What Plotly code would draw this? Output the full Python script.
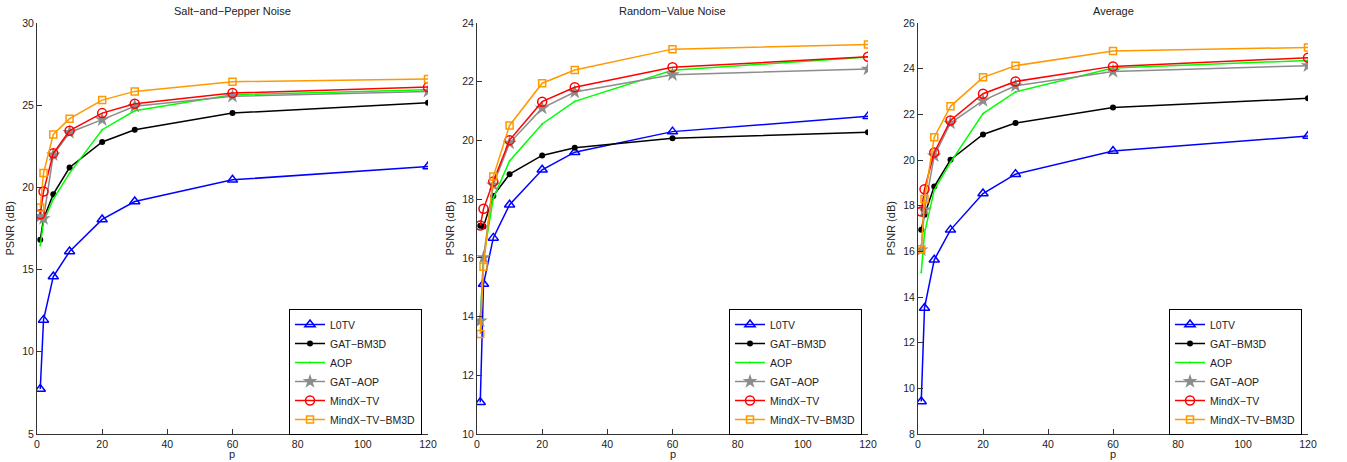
import plotly.graph_objects as go

p_values = [1, 2, 5, 10, 20, 30, 60, 120]
methods = ["L0TV", "GAT\u2212BM3D", "AOP", "GAT\u2212AOP", "MindX\u2212TV", "MindX\u2212TV\u2212BM3D"]

# Salt-and-Pepper Noise
sp_l0tv = [7.74, 11.94, 14.58, 16.10, 18.05, 19.14, 20.46, 21.27]
sp_gatbm3d = [16.81, 18.08, 19.59, 21.21, 22.76, 23.51, 24.52, 25.15]
sp_aop = [16.47, 17.90, 19.29, 20.87, 23.51, 24.66, 25.64, 25.94]
sp_gataop = [18.23, 18.10, 21.98, 23.34, 24.12, 24.93, 25.54, 25.84]
sp_mindxtv = [18.37, 19.75, 22.07, 23.45, 24.52, 25.09, 25.74, 26.10]
sp_mindxbm3d = [18.78, 20.87, 23.22, 24.18, 25.31, 25.84, 26.43, 26.59]

# Random-Value Noise
rv_l0tv = [11.08, 15.11, 16.68, 17.81, 19.00, 19.60, 20.30, 20.82]
rv_gatbm3d = [17.09, 17.07, 18.11, 18.85, 19.49, 19.75, 20.07, 20.28]
rv_aop = [13.90, 16.00, 18.03, 19.30, 20.56, 21.33, 22.39, 22.84]
rv_gataop = [13.85, 16.01, 18.49, 19.91, 21.10, 21.65, 22.24, 22.43]
rv_mindxtv = [17.10, 17.67, 18.60, 20.01, 21.32, 21.81, 22.49, 22.85]
rv_mindxbm3d = [13.41, 15.70, 18.77, 20.51, 21.95, 22.40, 23.11, 23.27]

# Average
av_l0tv = [9.42, 13.52, 15.63, 16.94, 18.53, 19.38, 20.39, 21.05]
av_gatbm3d = [16.94, 17.60, 18.84, 20.01, 21.12, 21.62, 22.30, 22.70]
av_aop = [15.07, 16.80, 18.69, 19.90, 22.03, 22.98, 24.03, 24.36]
av_gataop = [16.06, 17.82, 20.18, 21.62, 22.60, 23.25, 23.88, 24.13]
av_mindxtv = [17.74, 18.72, 20.33, 21.73, 22.90, 23.44, 24.10, 24.48]
av_mindxbm3d = [16.09, 18.29, 21.00, 22.35, 23.62, 24.13, 24.77, 24.93]

panel_titles = ["Salt\u2212and\u2212Pepper Noise", "Random\u2212Value Noise", "Average"]
y_ranges = [[5, 30], [10, 24], [8, 26]]
y_dticks = [5, 2, 2]
x_ticks = [0, 20, 40, 60, 80, 100, 120]

panels = [
    [sp_l0tv, sp_gatbm3d, sp_aop, sp_gataop, sp_mindxtv, sp_mindxbm3d],
    [rv_l0tv, rv_gatbm3d, rv_aop, rv_gataop, rv_mindxtv, rv_mindxbm3d],
    [av_l0tv, av_gatbm3d, av_aop, av_gataop, av_mindxtv, av_mindxbm3d],
]

styles = [
    dict(color="#0000FF", marker=dict(symbol="triangle-up-open", size=9, line=dict(width=1.5))),
    dict(color="#000000", marker=dict(symbol="circle", size=6)),
    dict(color="#00FF00", marker=dict(symbol="circle", size=2)),
    dict(color="#8C8C8C", marker=dict(symbol="star", size=11)),
    dict(color="#FF0000", marker=dict(symbol="circle-open", size=9, line=dict(width=1.5))),
    dict(color="#FF9900", marker=dict(symbol="square-open", size=7, line=dict(width=1.5))),
]

W, H = 1347, 462
x_doms = [(37, 428), (477, 868), (918, 1308)]
y_top, y_bot = 23, 434
FONT = "Liberation Sans, Arial, sans-serif"

fig = go.Figure()
for pi, series in enumerate(panels):
    ax = "" if pi == 0 else str(pi + 1)
    leg = "legend" if pi == 0 else f"legend{pi + 1}"
    for mi, vals in enumerate(series):
        st = styles[mi]
        mk = dict(st["marker"])
        mk["color"] = st["color"]
        if "line" in mk:
            mk["line"] = dict(mk["line"], color=st["color"])
        fig.add_trace(go.Scatter(
            x=p_values, y=vals, name=methods[mi], mode="lines+markers",
            line=dict(color=st["color"], width=1.5),
            marker=mk, xaxis="x" + ax, yaxis="y" + ax, legend=leg,
        ))

layout = dict(
    width=W, height=H, margin=dict(l=0, r=0, t=0, b=0, pad=0),
    autosize=False,
    paper_bgcolor="white", plot_bgcolor="white",
    font=dict(family=FONT, size=11, color="#222"),
    annotations=[],
)
for pi in range(3):
    ax = "" if pi == 0 else str(pi + 1)
    x0, x1 = x_doms[pi]
    xd = [x0 / W, x1 / W]
    yd = [1 - y_bot / H, 1 - y_top / H]
    layout["xaxis" + ax] = dict(
        domain=xd, range=[0, 120], tickvals=x_ticks, ticks="inside", ticklen=5,
        showline=True, linecolor="#333", linewidth=1, tickcolor="#333",
        showgrid=False, zeroline=False, anchor="y" + ax, automargin=False,
        tickfont=dict(size=10.5, family=FONT, color="#222"),
    )
    layout["yaxis" + ax] = dict(
        domain=yd, range=y_ranges[pi], dtick=y_dticks[pi], ticks="inside", ticklen=5,
        showline=True, linecolor="#333", linewidth=1, tickcolor="#333",
        showgrid=False, zeroline=False, anchor="x" + ax, automargin=False,
        tickfont=dict(size=10.5, family=FONT, color="#222"),
    )
    leg = "legend" if pi == 0 else f"legend{pi + 1}"
    layout[leg] = dict(
        x=(x1 - 6) / W, y=1 - 435 / H, xanchor="right", yanchor="bottom",
        bgcolor="white", bordercolor="black", borderwidth=1,
        font=dict(size=10.5, family=FONT, color="#222"),
        tracegroupgap=0,
    )
    cx = (x0 + x1) / 2 / W
    layout["annotations"].append(dict(
        text=panel_titles[pi], x=cx, y=1 - 11 / H, xref="paper", yref="paper",
        xanchor="center", yanchor="middle",
        showarrow=False, font=dict(size=11, family=FONT, color="#222"),
    ))
    layout["annotations"].append(dict(
        text="p", x=cx, y=1 - 454 / H, xref="paper", yref="paper",
        xanchor="center", yanchor="middle",
        showarrow=False, font=dict(size=11, family=FONT, color="#222"),
    ))
    layout["annotations"].append(dict(
        text="PSNR (dB)", x=(x0 - 28) / W, y=(1 - y_bot / H + 1 - y_top / H) / 2,
        xref="paper", yref="paper", textangle=-90, xanchor="center", yanchor="middle",
        showarrow=False, font=dict(size=11, family=FONT, color="#222"),
    ))

fig.update_layout(**layout)
fig.write_html(
    "out.html",
    config={"displayModeBar": False},
    post_script="document.body.style.margin='0px';document.body.style.overflow='hidden';",
)
